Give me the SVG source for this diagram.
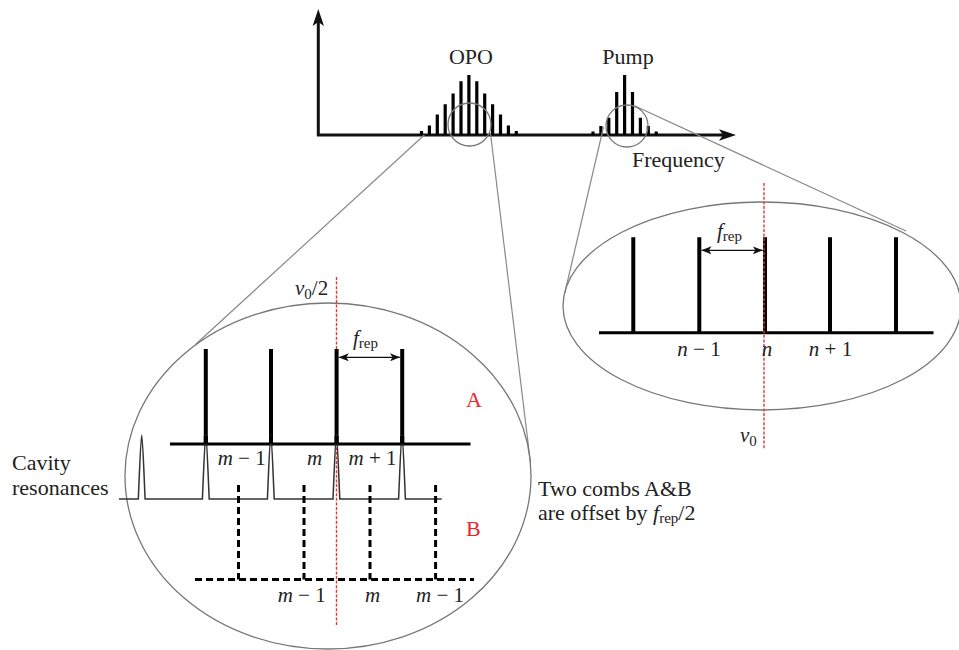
<svg xmlns="http://www.w3.org/2000/svg" width="959" height="650" viewBox="0 0 959 650" font-family="Liberation Serif, DejaVu Serif, serif">
<style>
text{font-family:"Liberation Serif","DejaVu Serif",serif;font-size:21px;fill:#222}
.big{font-size:22px}
.it{font-style:italic}
.sub{font-size:15px}
.red{fill:#e8282c}
.axis{stroke:#111;stroke-width:3;fill:none}
.tooth{stroke:#000;stroke-width:3.2;fill:none}
.line4{stroke:#000;stroke-width:4;fill:none}
.base{stroke:#000;stroke-width:3;fill:none}
.gray{stroke:#777;stroke-width:1.3;fill:none}
.zoomline{stroke:#888;stroke-width:1.2;fill:none}
.reddash{stroke:#e8323c;stroke-width:1.4;stroke-dasharray:3 1.6;fill:none}
.bdash{stroke:#000;stroke-width:3;stroke-dasharray:7 4;fill:none}
.dim{stroke:#111;stroke-width:1.2;fill:none;marker-start:url(#ah);marker-end:url(#ah)}
.trace{stroke:#333;stroke-width:1.5;fill:none}
</style>
<defs>
<marker id="ah" viewBox="0 0 10 8" refX="10" refY="4" markerWidth="10" markerHeight="8" markerUnits="userSpaceOnUse" orient="auto-start-reverse">
<path d="M0,0 L10,4 L0,8 L2.5,4 Z" fill="#111"/>
</marker>
</defs>

<g id="top-axes">
<line class="axis" x1="318.3" y1="136" x2="318.3" y2="20"/>
<path d="M318.3,9 L324,26 L318.3,22 L312.6,26 Z" fill="#111"/>
<line class="axis" x1="317" y1="135" x2="726" y2="135"/>
<path d="M736,135 L719,129.3 L723,135 L719,140.7 Z" fill="#111"/>
</g>

<g id="opo-comb">
<path class="tooth" d="M421.5,135V131 M429.4,135V125.5 M437.3,135V114.5 M445.2,135V104.3 M453.1,135V93.5 M461,135V81.3 M468.9,135V75 M476.8,135V81.3 M484.7,135V93.5 M492.6,135V104.3 M500.5,135V114.5 M508.4,135V125.5 M516.3,135V131"/>
<text class="big" x="471" y="64" text-anchor="middle">OPO</text>
<circle class="gray" cx="469.5" cy="124.5" r="21.5"/>
</g>

<g id="pump-comb">
<path class="tooth" d="M593,135V131.5 M600.9,135V126 M608.8,135V117.7 M616.7,135V92 M624.6,135V75 M632.5,135V92 M640.4,135V117.7 M648.3,135V126 M656.2,135V131.5"/>
<text class="big" x="628" y="64" text-anchor="middle">Pump</text>
<circle class="gray" cx="627" cy="126" r="21"/>
</g>

<g id="frequency-label">
<text class="big" x="632" y="167">Frequency</text>
</g>

<g id="connectors">
<line class="zoomline" x1="424.3" y1="135" x2="196" y2="344"/>
<line class="zoomline" x1="490.5" y1="133.5" x2="530.5" y2="463"/>
<line class="zoomline" x1="603.5" y1="127" x2="564.8" y2="293"/>
<line class="zoomline" x1="635" y1="106" x2="906" y2="231"/>
</g>

<g id="pump-zoom">
<ellipse class="gray" cx="762" cy="306" rx="199" ry="104"/>
<line class="base" x1="599" y1="332.7" x2="933.5" y2="332.7"/>
<path class="line4" d="M633.3,334V237.3 M699.3,334V237.3 M765,334V237.3 M830,334V237.3 M896,334V237.3"/>
<line class="reddash" x1="764" y1="183" x2="764" y2="449"/>
<line class="dim" x1="701.5" y1="250.3" x2="762.8" y2="250.3"/>
<text x="717" y="238"><tspan class="it">f</tspan><tspan class="sub" dy="3">rep</tspan></text>
<text x="699" y="356" text-anchor="middle"><tspan class="it">n</tspan> − 1</text>
<text x="767" y="356" text-anchor="middle" class="it">n</text>
<text x="830.5" y="356" text-anchor="middle"><tspan class="it">n</tspan> + 1</text>
<text x="740" y="442"><tspan class="it">ν</tspan><tspan class="sub" dy="4">0</tspan></text>
</g>

<g id="opo-zoom">
<ellipse class="gray" cx="328" cy="476" rx="203" ry="173"/>
<line class="reddash" x1="336.5" y1="277" x2="336.5" y2="625"/>
<text x="295" y="295"><tspan class="it">ν</tspan><tspan class="sub" dy="4">0</tspan><tspan dy="-4">/2</tspan></text>
</g>

<g id="comb-A">
<line class="base" x1="170" y1="444" x2="470.5" y2="444"/>
<path class="line4" d="M205.8,445.5V349 M271,445.5V349 M336.6,445.5V349 M402.2,445.5V349"/>
<line class="dim" x1="338.8" y1="357.3" x2="400" y2="357.3"/>
<text x="353" y="345"><tspan class="it">f</tspan><tspan class="sub" dy="3">rep</tspan></text>
<text class="big red" x="466" y="407">A</text>
<text x="241.7" y="465" text-anchor="middle"><tspan class="it">m</tspan> − 1</text>
<text x="314.5" y="465" text-anchor="middle" class="it">m</text>
<text x="372.5" y="465" text-anchor="middle"><tspan class="it">m</tspan> + 1</text>
</g>

<g id="cavity-resonances">
<path class="trace" d="M119,499 L138.3,499 C139.8,465 140.8,435 141.7,435 C142.6,435 143.6,465 145.1,499 L202.4,499 C203.9,465 204.9,435 205.8,435 C206.7,435 207.7,465 209.2,499 L267.4,499 C268.9,465 269.9,435 270.8,435 C271.7,435 272.7,465 274.2,499 L333,499 C334.5,465 335.5,435 336.4,435 C337.3,435 338.3,465 339.8,499 L398.6,499 C400.1,465 401.1,435 402,435 C402.9,435 403.9,465 405.4,499 L441.7,499"/>
<path class="line4" d="M205.8,444V436 M271,444V436 M336.6,444V436 M402.2,444V436"/>
<text class="big" x="12" y="470">Cavity</text>
<text class="big" x="12" y="495">resonances</text>
</g>

<g id="comb-B">
<line class="bdash" x1="195" y1="579.5" x2="474" y2="579.5"/>
<path class="bdash" d="M238.5,485V579.5 M304,485V579.5 M370,485V579.5 M435.6,485V579.5"/>
<text class="big red" x="466" y="536">B</text>
<text x="301.7" y="602" text-anchor="middle"><tspan class="it">m</tspan> − 1</text>
<text x="372.7" y="602" text-anchor="middle" class="it">m</text>
<text x="440" y="602" text-anchor="middle"><tspan class="it">m</tspan> − 1</text>
</g>

<g id="offset-note">
<text class="big" x="538" y="496">Two combs A&amp;B</text>
<text class="big" x="538" y="520">are offset by <tspan class="it">f</tspan><tspan class="sub" dy="3">rep</tspan><tspan dy="-3">/2</tspan></text>
</g>
</svg>
